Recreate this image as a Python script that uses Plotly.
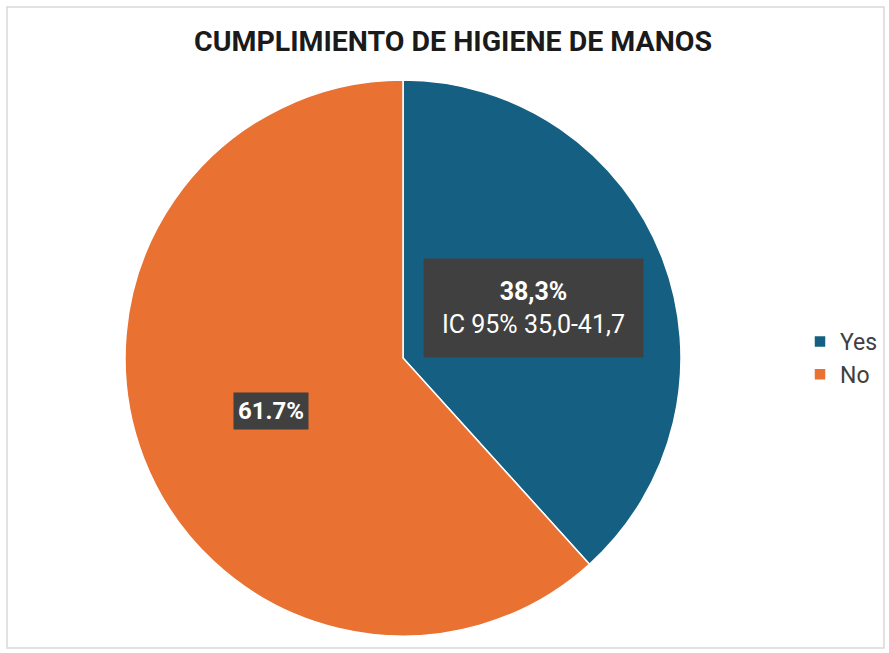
import plotly.graph_objects as go

categories = ["Yes", "No"]
values = [38.3, 61.7]
colors = ["#156082", "#E97132"]
label_texts = ["<b>38,3%</b><br>IC 95% 35,0-41,7", "<b>61.7%</b>"]

W, H = 889, 653
cx, cy, r = 403, 358, 278

fig = go.Figure(go.Pie(
    labels=categories,
    values=values,
    sort=False,
    direction="clockwise",
    rotation=0,
    marker=dict(colors=colors, line=dict(color="white", width=1.5)),
    textinfo="none",
    hoverinfo="label+percent",
    domain=dict(x=[(cx - r) / W, (cx + r) / W], y=[1 - (cy + r) / H, 1 - (cy - r) / H]),
))

fig.add_annotation(x=533 / W, y=1 - 308 / H, xref="paper", yref="paper",
                   xanchor="center", yanchor="middle",
                   text=label_texts[0], showarrow=False,
                   font=dict(family="Roboto", size=25, color="white"),
                   bgcolor="#404040", borderpad=18, align="center")
fig.add_annotation(x=271 / W, y=1 - 411 / H, xref="paper", yref="paper",
                   xanchor="center", yanchor="middle",
                   text=label_texts[1], showarrow=False,
                   font=dict(family="Roboto", size=24, color="white"),
                   bgcolor="#404040", borderpad=4, align="center")

fig.add_shape(type="rect", xref="paper", yref="paper",
              x0=7 / W, x1=884 / W, y0=1 - 648 / H, y1=1 - 7 / H,
              line=dict(color="#d9d9d9", width=1.5), fillcolor="rgba(0,0,0,0)")

fig.update_layout(
    width=W, height=H,
    margin=dict(l=0, r=0, t=0, b=0),
    paper_bgcolor="white",
    title=dict(text="<b>CUMPLIMIENTO DE HIGIENE DE MANOS</b>", x=453 / W, xanchor="center",
               y=1 - 41 / H, yanchor="middle",
               font=dict(family="Roboto", size=28.5, color="#1a1a1a")),
    legend=dict(x=800 / W, y=1 - 358 / H, xanchor="left", yanchor="middle",
                font=dict(family="Roboto", size=23, color="#404040"),
                itemwidth=30),
)

fig.write_html("out.html", config={"displayModeBar": False},
               post_script="document.body.style.margin='0';")
